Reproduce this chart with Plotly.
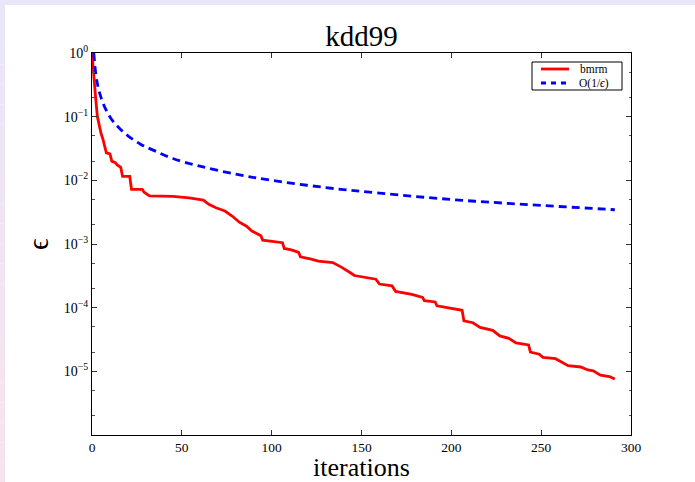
import plotly.graph_objects as go

# ---- data ----
bmrm_iter = [0, 1, 2, 3, 4, 5, 6, 7, 8, 10, 11, 13, 14, 16, 17, 21, 22, 28, 29, 32,
             45, 54, 62, 65, 69, 74, 78, 82, 86, 89, 94, 95, 102, 106, 107, 111, 115,
             116, 122, 126, 134, 139, 144, 146, 158, 160, 167, 169, 178, 184, 185, 191,
             192, 199, 206, 207, 212, 216, 223, 227, 232, 236, 243, 244, 249, 251, 258,
             265, 272, 276, 279, 283, 288, 291]
bmrm_eps = [1.0, 0.4, 0.2, 0.1, 0.07, 0.055, 0.045, 0.035, 0.027, 0.026, 0.02, 0.019,
            0.0175, 0.016, 0.0115, 0.0115, 0.0072, 0.0072, 0.0065, 0.0057,
            0.0056, 0.0053, 0.0049, 0.0042, 0.0037, 0.0033, 0.00275, 0.0022, 0.0019,
            0.0016, 0.00135, 0.00115, 0.0011, 0.00105, 0.00085, 0.00081, 0.00074,
            0.00063, 0.00058, 0.00054, 0.00051, 0.00043, 0.00035, 0.00032, 0.00028,
            0.000235, 0.00022, 0.00018, 0.000162, 0.000145, 0.000129, 0.000123,
            0.000107, 0.000098, 0.000091, 0.000062, 0.000058, 0.000049, 0.000044,
            0.000036, 0.000033, 0.000028, 0.000026, 0.00002, 0.0000186, 0.0000166,
            0.0000158, 0.0000123, 0.0000117, 0.0000105, 0.0000102, 0.0000087,
            0.0000083, 0.0000076]

ref_iter = [1, 2, 3, 4, 6, 8, 11, 15, 20, 27, 35, 45, 60, 80, 100, 130, 160, 200,
            240, 291]
ref_eps = [1.0, 0.5, 0.33, 0.25, 0.167, 0.125, 0.09, 0.067, 0.05, 0.037, 0.029,
           0.022, 0.0167, 0.0125, 0.01, 0.0077, 0.0063, 0.005, 0.0042, 0.00345]

series_names = ["bmrm", "O(1/ϵ)"]
series_colors = ["#ff0000", "#0000ff"]

x_ticks = [0, 50, 100, 150, 200, 250, 300]
y_tick_vals = [1, 1e-1, 1e-2, 1e-3, 1e-4, 1e-5]
y_tick_text = ["10<sup>0</sup>", "10<sup>−1</sup>", "10<sup>−2</sup>",
               "10<sup>−3</sup>", "10<sup>−4</sup>", "10<sup>−5</sup>"]

SERIF = "Liberation Serif, DejaVu Serif, serif"
W, H = 695, 482
L, R, T, B = 92, 64, 53, 47
PW, PH = W - L - R, H - T - B


def px(x):
    return (x - L) / PW


def py(y):
    return (H - B - y) / PH


fig = go.Figure()
fig.add_trace(go.Scatter(x=bmrm_iter, y=bmrm_eps, mode="lines", name=series_names[0],
                         line=dict(color=series_colors[0], width=2.8)))
fig.add_trace(go.Scatter(x=ref_iter, y=ref_eps, mode="lines", name=series_names[1],
                         line=dict(color=series_colors[1], width=2.8, dash="8px,5px"),
                         line_shape="spline"))

# slide-like border strips
shapes = [dict(type="rect", xref="paper", yref="paper", x0=px(0), x1=px(W),
               y0=py(5), y1=py(0), fillcolor="#e8e6f7", line=dict(width=0),
               layer="below")]
n = 24
c0 = (0xe8, 0xe6, 0xf7)
c1 = (0xf6, 0xe4, 0xec)
for i in range(n):
    t = i / (n - 1)
    col = "rgb(%d,%d,%d)" % tuple(round(a + (b - a) * t) for a, b in zip(c0, c1))
    y0 = 5 + (H - 5) * i / n
    y1 = 5 + (H - 5) * (i + 1) / n
    shapes.append(dict(type="rect", xref="paper", yref="paper", x0=px(0), x1=px(5),
                       y0=py(y1), y1=py(y0), fillcolor=col, line=dict(width=0),
                       layer="below"))

# compact matplotlib-style legend
LEG_TOP, LEG_BOT = 62, 90
ROW1, ROW2 = 69, 83
shapes.append(dict(type="rect", xref="paper", yref="paper", x0=px(532), x1=px(622),
                   y0=py(LEG_BOT), y1=py(LEG_TOP), fillcolor="white",
                   line=dict(color="black", width=1), layer="above"))
shapes.append(dict(type="line", xref="paper", yref="paper", x0=px(541), x1=px(569),
                   y0=py(ROW1), y1=py(ROW1), line=dict(color=series_colors[0], width=2.8),
                   layer="above"))
shapes.append(dict(type="line", xref="paper", yref="paper", x0=px(541), x1=px(569),
                   y0=py(ROW2), y1=py(ROW2),
                   line=dict(color=series_colors[1], width=2.8, dash="5px,5px"),
                   layer="above"))
annotations = [
    dict(text=series_names[0], xref="paper", yref="paper", x=px(578), y=py(ROW1),
         xanchor="left", yanchor="middle", showarrow=False, font=dict(size=11.5)),
    dict(text="O(1/<i>ϵ</i>)", xref="paper", yref="paper", x=px(577), y=py(ROW2),
         xanchor="left", yanchor="middle", showarrow=False, font=dict(size=11.5)),
    dict(text="iterations", xref="paper", yref="paper", x=0.5, y=py(H + 1),
         xanchor="center", yanchor="bottom", showarrow=False, font=dict(size=26),
         borderpad=0),
]

fig.update_layout(
    width=W, height=H,
    margin=dict(l=L, r=R, t=T, b=B, autoexpand=False),
    paper_bgcolor="white", plot_bgcolor="white",
    font=dict(family=SERIF, color="black", size=14),
    title=dict(text="kdd99", xref="paper", x=0.5, xanchor="center",
               y=1 - 36 / H, yanchor="middle", font=dict(size=29)),
    showlegend=False,
    shapes=shapes,
    annotations=annotations,
)
fig.update_xaxes(range=[0, 300], tickvals=x_ticks, ticks="inside", ticklen=5,
                 tickcolor="#333", showline=True, linecolor="black", linewidth=1,
                 mirror="allticks", showgrid=False, zeroline=False,
                 tickfont=dict(size=13.5))
fig.update_yaxes(type="log", range=[-6, 0], tickvals=y_tick_vals,
                 ticktext=y_tick_text, ticks="inside", ticklen=5, tickcolor="#333",
                 minor=dict(ticks="inside", ticklen=2.5, tickcolor="#555",
                            showgrid=False),
                 showline=True, linecolor="black", linewidth=1, mirror="allticks",
                 showgrid=False, zeroline=False, tickfont=dict(size=14),
                 title=dict(text="ϵ", font=dict(size=29), standoff=6))

fig.write_html("out.html")
